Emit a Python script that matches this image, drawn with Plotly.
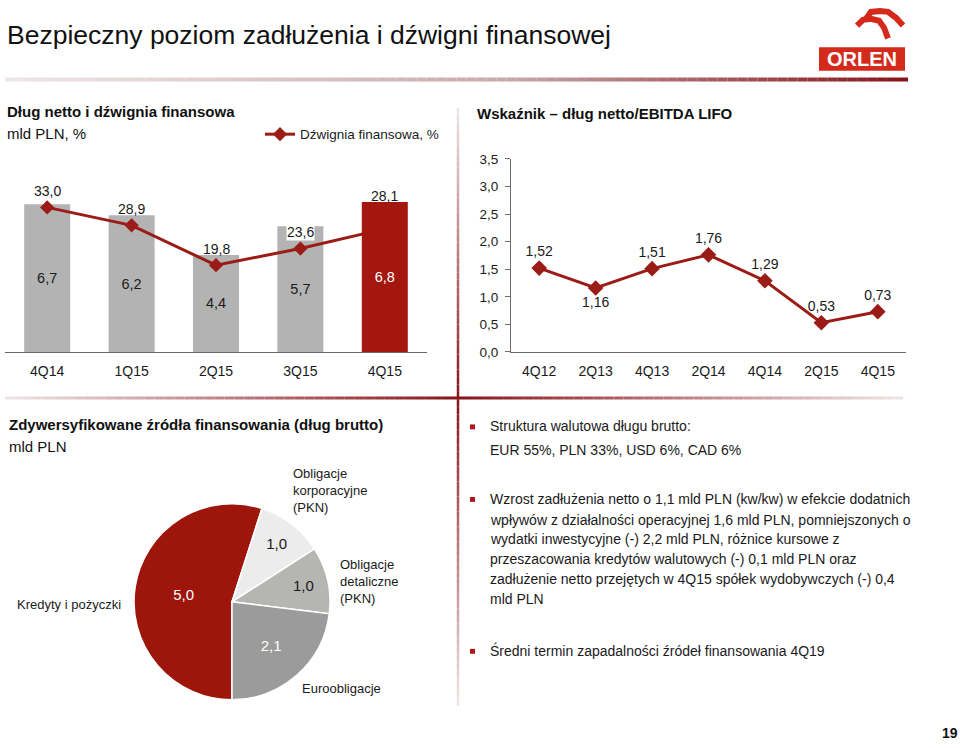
import plotly.graph_objects as go

W, H = 960, 748
FONT = "Liberation Sans, Arial, sans-serif"

RED = "#a3170f"
LINE_RED = "#9b1c17"
GRAY_BAR = "#b3b3b3"
TXT = "#1a1a1a"

# ---------------- data ----------------
lev_quarters = ["4Q14", "1Q15", "2Q15", "3Q15", "4Q15"]
net_debt = [6.7, 6.2, 4.4, 5.7, 6.8]            # mld PLN
leverage = [33.0, 28.9, 19.8, 23.6, 28.1]       # %

ratio_quarters = ["4Q12", "2Q13", "4Q13", "2Q14", "4Q14", "2Q15", "4Q15"]
debt_ebitda = [1.52, 1.16, 1.51, 1.76, 1.29, 0.53, 0.73]
ratio_ticks = [0.0, 0.5, 1.0, 1.5, 2.0, 2.5, 3.0, 3.5]

fund_labels = ["Kredyty i pożyczki", "Obligacje korporacyjne (PKN)",
               "Obligacje detaliczne (PKN)", "Euroobligacje"]
fund_values = [5.0, 1.0, 1.0, 2.1]

bullets = [
    ["Struktura walutowa długu brutto:",
     "EUR 55%, PLN 33%, USD 6%, CAD 6%"],
    ["Wzrost zadłużenia netto o 1,1 mld PLN (kw/kw) w efekcie dodatnich",
     "wpływów z działalności operacyjnej 1,6 mld PLN, pomniejszonych o",
     "wydatki inwestycyjne (-) 2,2 mld PLN, różnice kursowe z",
     "przeszacowania kredytów walutowych (-) 0,1 mld PLN oraz",
     "zadłużenie netto przejętych w 4Q15 spółek wydobywczych (-) 0,4",
     "mld PLN"],
    ["Średni termin zapadalności źródeł finansowania 4Q19"],
]


def fx(x):
    return x / W


def fy(y):
    return 1 - y / H


def dec(v, d=1):
    return f"{v:.{d}f}".replace(".", ",")


fig = go.Figure()

# ---- chart 1: gray bars (bottom) -> leverage line -> last (red) bar on top
fig.add_trace(go.Bar(
    x=lev_quarters[:-1], y=net_debt[:-1], xaxis="x", yaxis="y", width=0.545,
    marker=dict(color=GRAY_BAR, line_width=0),
    text=[dec(v) for v in net_debt[:-1]], textposition="inside",
    insidetextanchor="middle", textangle=0,
    textfont=dict(size=14.5, color=TXT, family=FONT),
    hoverinfo="skip", showlegend=False))

fig.add_trace(go.Scatter(
    x=lev_quarters, y=leverage, xaxis="x", yaxis="y2",
    mode="lines+markers", name="Dźwignia finansowa, %",
    line=dict(color=LINE_RED, width=3),
    marker=dict(symbol="diamond", size=11, color=LINE_RED),
    hoverinfo="skip", showlegend=True))

fig.add_trace(go.Bar(
    x=lev_quarters[-1:], y=net_debt[-1:], xaxis="x", yaxis="y3", width=0.545,
    marker=dict(color=RED, line_width=0),
    text=[dec(v) for v in net_debt[-1:]], textposition="inside",
    insidetextanchor="middle", textangle=0,
    textfont=dict(size=14.5, color="white", family=FONT),
    hoverinfo="skip", showlegend=False))

# ---- chart 2: net debt / EBITDA
pos2 = ["top center", "bottom center", "top center", "top center",
        "top center", "top center", "top center"]
fig.add_trace(go.Scatter(
    x=ratio_quarters, y=debt_ebitda, xaxis="x2", yaxis="y4",
    mode="lines+markers+text", text=[dec(v, 2) for v in debt_ebitda],
    textposition=pos2, textfont=dict(size=14, color=TXT, family=FONT),
    line=dict(color=LINE_RED, width=3),
    marker=dict(symbol="diamond", size=12, color=LINE_RED),
    cliponaxis=False, hoverinfo="skip", showlegend=False))

# ---- chart 3: pie
fig.add_trace(go.Pie(
    labels=fund_labels, values=fund_values, sort=False,
    direction="clockwise", rotation=180,
    domain=dict(x=[fx(132), fx(332)], y=[fy(707), fy(507)]),
    marker=dict(colors=["#9e150b", "#ececec", "#b5b5b2", "#9b9b9b"],
                line=dict(color="white", width=1.5)),
    text=[dec(v) for v in fund_values], textinfo="text",
    textposition="inside", insidetextorientation="horizontal",
    textfont=dict(size=15, color=["white", TXT, TXT, "white"], family=FONT),
    hoverinfo="skip", showlegend=False))

ann = []
# leverage labels
lev_shift = [16, 16, 16, 17, 33]
lev_bg = ["rgba(0,0,0,0)"] * 3 + ["white", "rgba(0,0,0,0)"]
for q, v, s, bg in zip(lev_quarters, leverage, lev_shift, lev_bg):
    ann.append(dict(x=q, y=v, xref="x", yref="y2", yshift=s, text=dec(v),
                    showarrow=False, bgcolor=bg, borderpad=0,
                    font=dict(size=14, color=TXT, family=FONT)))

# titles
titles = [
    (5, 29, "Bezpieczny poziom zadłużenia i dźwigni finansowej", 26.5),
    (5, 107, "<b>Dług netto i dźwignia finansowa</b>", 15),
    (5, 129, "mld PLN, %", 15),
    (475, 109, "<b>Wskaźnik – dług netto/EBITDA LIFO</b>", 15),
    (7, 426, "<b>Zdywersyfikowane źródła finansowania (dług brutto)</b>", 15),
    (7, 448, "mld PLN", 15),
]
for x, y, t, s in titles:
    ann.append(dict(x=fx(x), y=fy(y), xref="paper", yref="paper", text=t,
                    xanchor="left", yanchor="middle", showarrow=False,
                    font=dict(size=s, family=FONT, color="#111")))

# pie outside labels
pie_lab_pos = [(123, 610, "right"), (291, 493, "left"), (338, 586, "left"), (300, 695, "left")]
for lab, (x, y, anc) in zip(fund_labels, pie_lab_pos):
    txt = "<br>".join(lab.split(" ")) if "(PKN)" in lab else lab
    ann.append(dict(x=fx(x), y=fy(y), xref="paper", yref="paper", text=txt,
                    xanchor=anc, yanchor="middle", align="left", showarrow=False,
                    font=dict(size=13, family=FONT, color=TXT)))

# bullet text
line_y = [[428, 452], [502, 523, 543, 563, 584, 604], [657]]
shapes = []
for para, ys in zip(bullets, line_y):
    for t, y in zip(para, ys):
        ann.append(dict(x=fx(488), y=fy(y), xref="paper", yref="paper", text=t,
                        xanchor="left", yanchor="middle", showarrow=False,
                        font=dict(size=14, family=FONT, color=TXT)))
    by = ys[0]
    shapes.append(dict(type="rect", xref="paper", yref="paper",
                       x0=fx(470), x1=fx(475), y0=fy(by + 3), y1=fy(by - 2),
                       fillcolor="#b0161a", line_width=0))

# page number
ann.append(dict(x=fx(950), y=fy(741), xref="paper", yref="paper", text="<b>19</b>",
                xanchor="center", yanchor="middle", showarrow=False,
                font=dict(size=14, family=FONT, color="#111")))

# ORLEN logo text
ann.append(dict(x=fx(862), y=fy(53), xref="paper", yref="paper", text="<b>ORLEN</b>",
                xanchor="center", yanchor="middle", showarrow=False,
                font=dict(size=20, family=FONT, color="white")))


# gradient helpers
def lerp(a, b, t):
    return a + (b - a) * t


def grad(x0, y0, x1, y1, stops, n, width):
    out = []
    for i in range(n):
        t0, t1 = i / n, (i + 1) / n
        tm = (t0 + t1) / 2
        for j in range(len(stops) - 1):
            if stops[j][0] <= tm <= stops[j + 1][0]:
                u = (tm - stops[j][0]) / (stops[j + 1][0] - stops[j][0])
                c = [round(lerp(stops[j][1][k], stops[j + 1][1][k], u)) for k in range(3)]
                break
        out.append(dict(type="line", xref="paper", yref="paper",
                         x0=fx(lerp(x0, x1, t0)), y0=fy(lerp(y0, y1, t0)),
                         x1=fx(lerp(x0, x1, t1)), y1=fy(lerp(y0, y1, t1)),
                         line=dict(color=f"rgb({c[0]},{c[1]},{c[2]})", width=width)))
    return out


LIGHT = (240, 230, 230)
DARK = (135, 18, 24)
shapes += grad(5, 74, 908, 74, [(0, LIGHT), (0.55, (200, 170, 170)), (1, DARK)], 90, 4)
shapes += grad(458, 103, 458, 713, [(0, LIGHT), (297 / 610, DARK), (1, LIGHT)], 80, 2.5)
shapes += grad(5, 399, 903, 399, [(0, LIGHT), (453 / 898, DARK), (1, LIGHT)], 90, 3)

# ORLEN logo
shapes.append(dict(type="rect", xref="paper", yref="paper", x0=fx(819), x1=fx(905),
                   y0=fy(65), y1=fy(41), fillcolor="#d42a1c", line_width=0, layer="below"))


def path(pts):
    return "M " + " L ".join(f"{fx(x):.5f},{fy(y):.5f}" for x, y in pts)


shapes.append(dict(type="path", xref="paper", yref="paper",
                   path=path([(866, 12), (871, 5), (880, 4), (888, 5), (896, 11), (903, 19)]),
                   line=dict(color="#d42a1c", width=6)))
shapes.append(dict(type="path", xref="paper", yref="paper",
                   path=path([(857, 19), (863, 13), (871, 12), (879, 14), (884, 21), (888, 32)]),
                   line=dict(color="#d42a1c", width=6)))

bar_range = [0, (352 - 150) / 22.5]
fig.update_layout(
    width=W, height=H, margin=dict(l=0, r=0, t=0, b=0),
    paper_bgcolor="white", plot_bgcolor="white", separators=", ",
    font=dict(family=FONT, color=TXT, size=14),
    xaxis=dict(domain=[fx(5), fx(427)], range=[-0.5, 4.5], anchor="y",
               showline=True, linecolor="#6b6b6b", linewidth=1, ticks="",
               showgrid=False, zeroline=False, tickfont=dict(size=14),
               ticklabelstandoff=6, fixedrange=True),
    yaxis=dict(domain=[fy(352), fy(150)], range=bar_range,
               visible=False, anchor="x", fixedrange=True),
    yaxis2=dict(overlaying="y", range=[0, (352 - 150) / 4.47], visible=False,
                anchor="x", fixedrange=True),
    yaxis3=dict(overlaying="y", range=bar_range, visible=False,
                anchor="x", fixedrange=True),
    xaxis2=dict(domain=[fx(511), fx(906)], range=[-0.5, 6.5], anchor="y4",
                showline=True, linecolor="#6b6b6b", linewidth=1, ticks="",
                showgrid=False, zeroline=False, tickfont=dict(size=14),
                ticklabelstandoff=6, fixedrange=True),
    yaxis4=dict(domain=[fy(352), fy(155)], range=[0, 3.5], anchor="x2",
                showline=True, linecolor="#6b6b6b", linewidth=1,
                ticks="outside", ticklen=5, tickcolor="#6b6b6b",
                tickvals=ratio_ticks, tickformat=".1f", showgrid=False,
                zeroline=False, tickfont=dict(size=13.5), ticklabelstandoff=4,
                fixedrange=True),
    legend=dict(x=fx(260), y=fy(130), xanchor="left", yanchor="middle",
                bgcolor="rgba(0,0,0,0)", font=dict(size=13.5, family=FONT, color=TXT),
                itemwidth=30),
    annotations=ann, shapes=shapes,
)

fig.write_html("out.html", config={"displayModeBar": False},
               post_script="document.body.style.margin='0';")
